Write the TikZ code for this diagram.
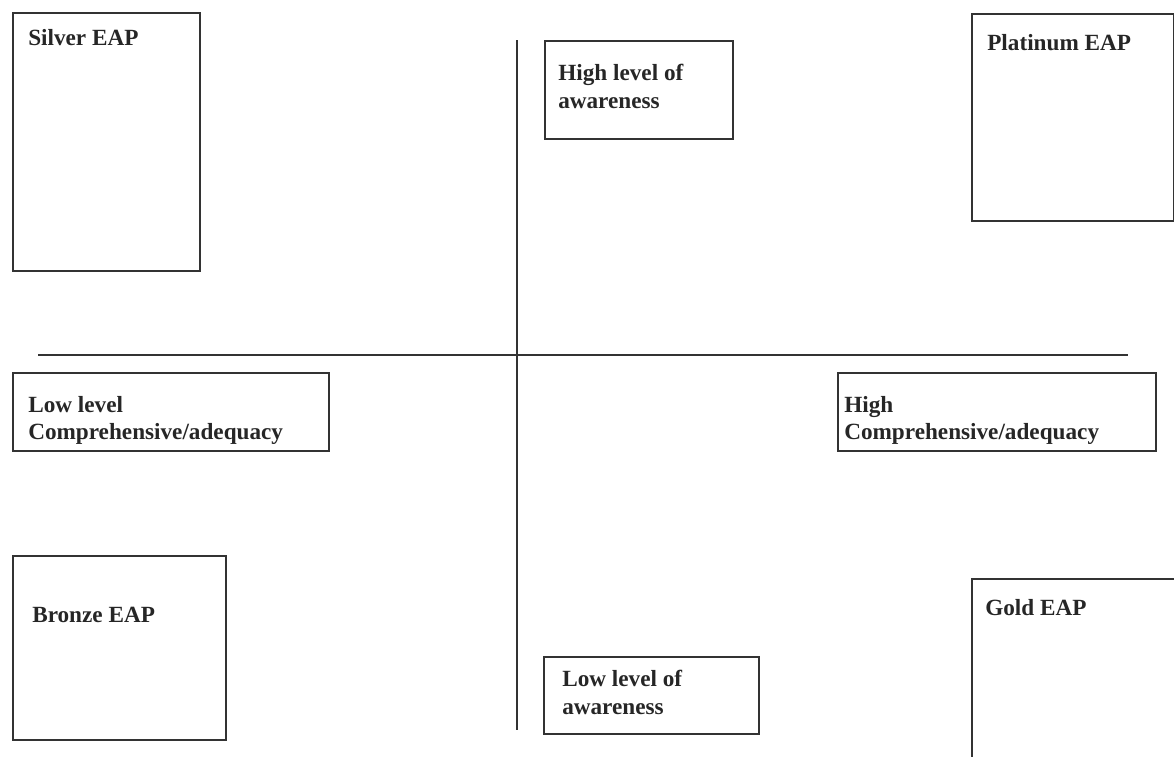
\documentclass[tikz,border=0pt]{standalone}
\usepackage{fontspec}
\setmainfont{Liberation Serif}
\usetikzlibrary{positioning}

\tikzset{
  box/.style={draw=black!80,line width=1.7pt,inner sep=0pt,anchor=north west},
  lbl/.style={anchor=north west,inner sep=0pt,align=left,text=black!85,
    font=\bfseries\fontsize{16.5}{19.5}\selectfont},
  axis/.style={draw=black!80,line width=1.5pt}
}

\begin{document}
\begin{tikzpicture}[x=0.025cm,y=-0.025cm]
  \useasboundingbox (0,0) rectangle (1174,756);
  \clip (0,0) rectangle (1174,756);
  % axes
  \coordinate (top) at (517,40);
  \coordinate (bot) at (517,730);
  \coordinate (lft) at (38,355);
  \coordinate (rgt) at (1128,355);
  \draw[axis] (top) -- (bot);
  \draw[axis] (lft) -- (rgt);
  % corner boxes
  \node[box,minimum width=187*0.025cm,minimum height=258*0.025cm] (silver) at (12,12) {};
  \node[box,minimum width=202*0.025cm,minimum height=207*0.025cm] (platinum) at (971,13) {};
  \node[box,minimum width=213*0.025cm,minimum height=184*0.025cm] (bronze) at (12,555) {};
  \node[box,minimum width=215*0.025cm,minimum height=190*0.025cm] (gold) at (971,578) {};
  \node[lbl] (silvertxt) at (28,29) {Silver EAP};
  \node[lbl] (platinumtxt) at (987,34) {Platinum EAP};
  \node[lbl] (bronzetxt) at (32,607) {Bronze EAP};
  \node[lbl] (goldtxt) at (985,599) {Gold EAP};
  % axis labels
  \node[box,minimum width=188*0.025cm,minimum height=98*0.025cm] (hiaw) at (544,40) {};
  \node[box,minimum width=215*0.025cm,minimum height=77*0.025cm] (loaw) at (543,656) {};
  \node[box,minimum width=316*0.025cm,minimum height=78*0.025cm] (locomp) at (12,372) {};
  \node[box,minimum width=318*0.025cm,minimum height=78*0.025cm] (hicomp) at (837,372) {};
  \node[lbl] (hiawtxt) at (558,64) {High level of\\awareness};
  \node[lbl] (loawtxt) at (562,670) {Low level of\\awareness};
  \node[lbl] (locomptxt) at (28,396) {Low level\\Comprehensive/adequacy};
  \node[lbl] (hicomptxt) at (844,396) {High\\Comprehensive/adequacy};
\end{tikzpicture}
\end{document}
